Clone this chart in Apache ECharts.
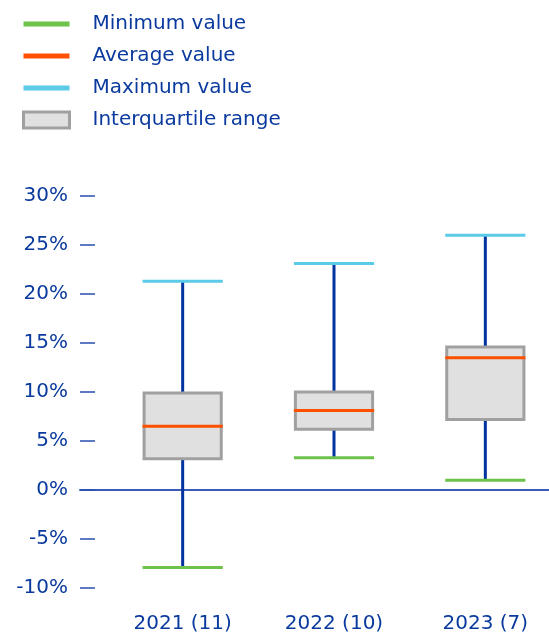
<!DOCTYPE html>
<html>
<head>
<meta charset="utf-8">
<script src="https://cdn.jsdelivr.net/npm/echarts@6/dist/echarts.min.js"></script>
<style>html,body{margin:0;padding:0;background:#fff;}#c{width:549px;height:635px;}</style>
</head>
<body>
<div id="c"></div>
<script>
var categories = ['2021 (11)', '2022 (10)', '2023 (7)'];
var minValues = [-7.9, 3.3, 1.0];
var q1Values = [3.2, 6.2, 7.2];
var avgValues = [6.5, 8.1, 13.5];
var q3Values = [9.9, 10.0, 14.6];
var maxValues = [21.3, 23.1, 26.0];
var yTicks = [-10, -5, 0, 5, 10, 15, 20, 25, 30];

var TEXT = '#0a3a9e';
var FONT = 'DejaVu Sans';

function idxData(arrA, arrB) {
  return categories.map(function (c, i) { return arrB ? [i, arrA[i], arrB[i]] : [i, arrA[i]]; });
}
function capRender(color) {
  return function (params, api) {
    var p = api.coord([api.value(0), api.value(1)]);
    var w = api.size([1, 0])[0] * 0.53;
    return { type: 'line', shape: { x1: p[0] - w / 2, y1: p[1], x2: p[0] + w / 2, y2: p[1] },
      style: { stroke: color, lineWidth: 3 } };
  };
}
function whiskerRender(params, api) {
  var a = api.coord([api.value(0), api.value(1)]);
  var b = api.coord([api.value(0), api.value(2)]);
  return { type: 'line', shape: { x1: a[0], y1: a[1], x2: b[0], y2: b[1] },
    style: { stroke: '#0033a0', lineWidth: 3 } };
}
function boxRender(params, api) {
  var lo = api.coord([api.value(0), api.value(1)]);
  var hi = api.coord([api.value(0), api.value(2)]);
  var w = api.size([1, 0])[0] * 0.51;
  return { type: 'rect', shape: { x: lo[0] - w / 2, y: hi[1], width: w, height: lo[1] - hi[1] },
    style: { fill: '#e0e0e0', stroke: '#a0a0a0', lineWidth: 3 } };
}
var lineIcon = 'path://M0,0M0,16M0,5.5H46V10.5H0Z';

var chart = echarts.init(document.getElementById('c'), null, { renderer: 'canvas' });
chart.setOption({
  animation: false,
  backgroundColor: '#ffffff',
  legend: {
    orient: 'vertical', left: 22, top: 14, padding: 0,
    itemWidth: 46, itemHeight: 16, itemGap: 12,
    textStyle: { color: TEXT, fontSize: 20, fontFamily: FONT, padding: [0, 0, 0, 18], lineHeight: 16 },
    data: [
      { name: 'Minimum value', icon: lineIcon, itemStyle: { color: '#6cc24a', borderWidth: 0 } },
      { name: 'Average value', icon: lineIcon, itemStyle: { color: '#ff5000', borderWidth: 0 } },
      { name: 'Maximum value', icon: lineIcon, itemStyle: { color: '#5bcbe8', borderWidth: 0 } },
      { name: 'Interquartile range', icon: 'rect', itemStyle: { color: '#e0e0e0', borderColor: '#a0a0a0', borderWidth: 3 } }
    ],
    selectedMode: false
  },
  grid: [
    { left: 107, width: 454, top: 196, height: 392, outerBoundsMode: 'none', containLabel: false },
    { left: 80, right: 0, top: 196, height: 392, outerBoundsMode: 'none', containLabel: false }
  ],
  xAxis: [
    { gridIndex: 0, type: 'category', data: categories, position: 'bottom',
      axisLine: { show: false }, axisTick: { show: false }, splitLine: { show: false },
      axisLabel: { color: TEXT, fontSize: 20, fontFamily: FONT, margin: 26 } },
    { gridIndex: 1, type: 'value', min: 0, max: 1,
      axisLine: { show: true, onZero: true, lineStyle: { color: '#3a5cb8', width: 2 } },
      axisTick: { show: false }, axisLabel: { show: false }, splitLine: { show: false } }
  ],
  yAxis: [
    { gridIndex: 0, type: 'value', min: -10, max: 30, interval: 5, show: false },
    { gridIndex: 1, type: 'value', min: -10, max: 30, interval: 5,
      axisLine: { show: false },
      axisTick: { show: true, inside: true, length: 15, lineStyle: { color: '#2a4fb0', width: 1.5 } },
      splitLine: { show: false },
      axisLabel: { color: TEXT, fontSize: 20, fontFamily: FONT, margin: 12,
        formatter: function (v) { return yTicks.indexOf(v) >= 0 ? v + '%' : ''; } } }
  ],
  series: [
    { type: 'custom', name: 'whisker', xAxisIndex: 0, yAxisIndex: 0, renderItem: whiskerRender,
      data: idxData(minValues, maxValues), z: 1 },
    { type: 'custom', name: 'Interquartile range', xAxisIndex: 0, yAxisIndex: 0, renderItem: boxRender,
      itemStyle: { color: '#e0e0e0' }, data: idxData(q1Values, q3Values), z: 2 },
    { type: 'custom', name: 'Minimum value', xAxisIndex: 0, yAxisIndex: 0, renderItem: capRender('#6cc24a'),
      itemStyle: { color: '#6cc24a' }, data: idxData(minValues), z: 3 },
    { type: 'custom', name: 'Average value', xAxisIndex: 0, yAxisIndex: 0, renderItem: capRender('#ff5000'),
      itemStyle: { color: '#ff5000' }, data: idxData(avgValues), z: 3 },
    { type: 'custom', name: 'Maximum value', xAxisIndex: 0, yAxisIndex: 0, renderItem: capRender('#5bcbe8'),
      itemStyle: { color: '#5bcbe8' }, data: idxData(maxValues), z: 3 }
  ]
});
</script>
</body>
</html>
